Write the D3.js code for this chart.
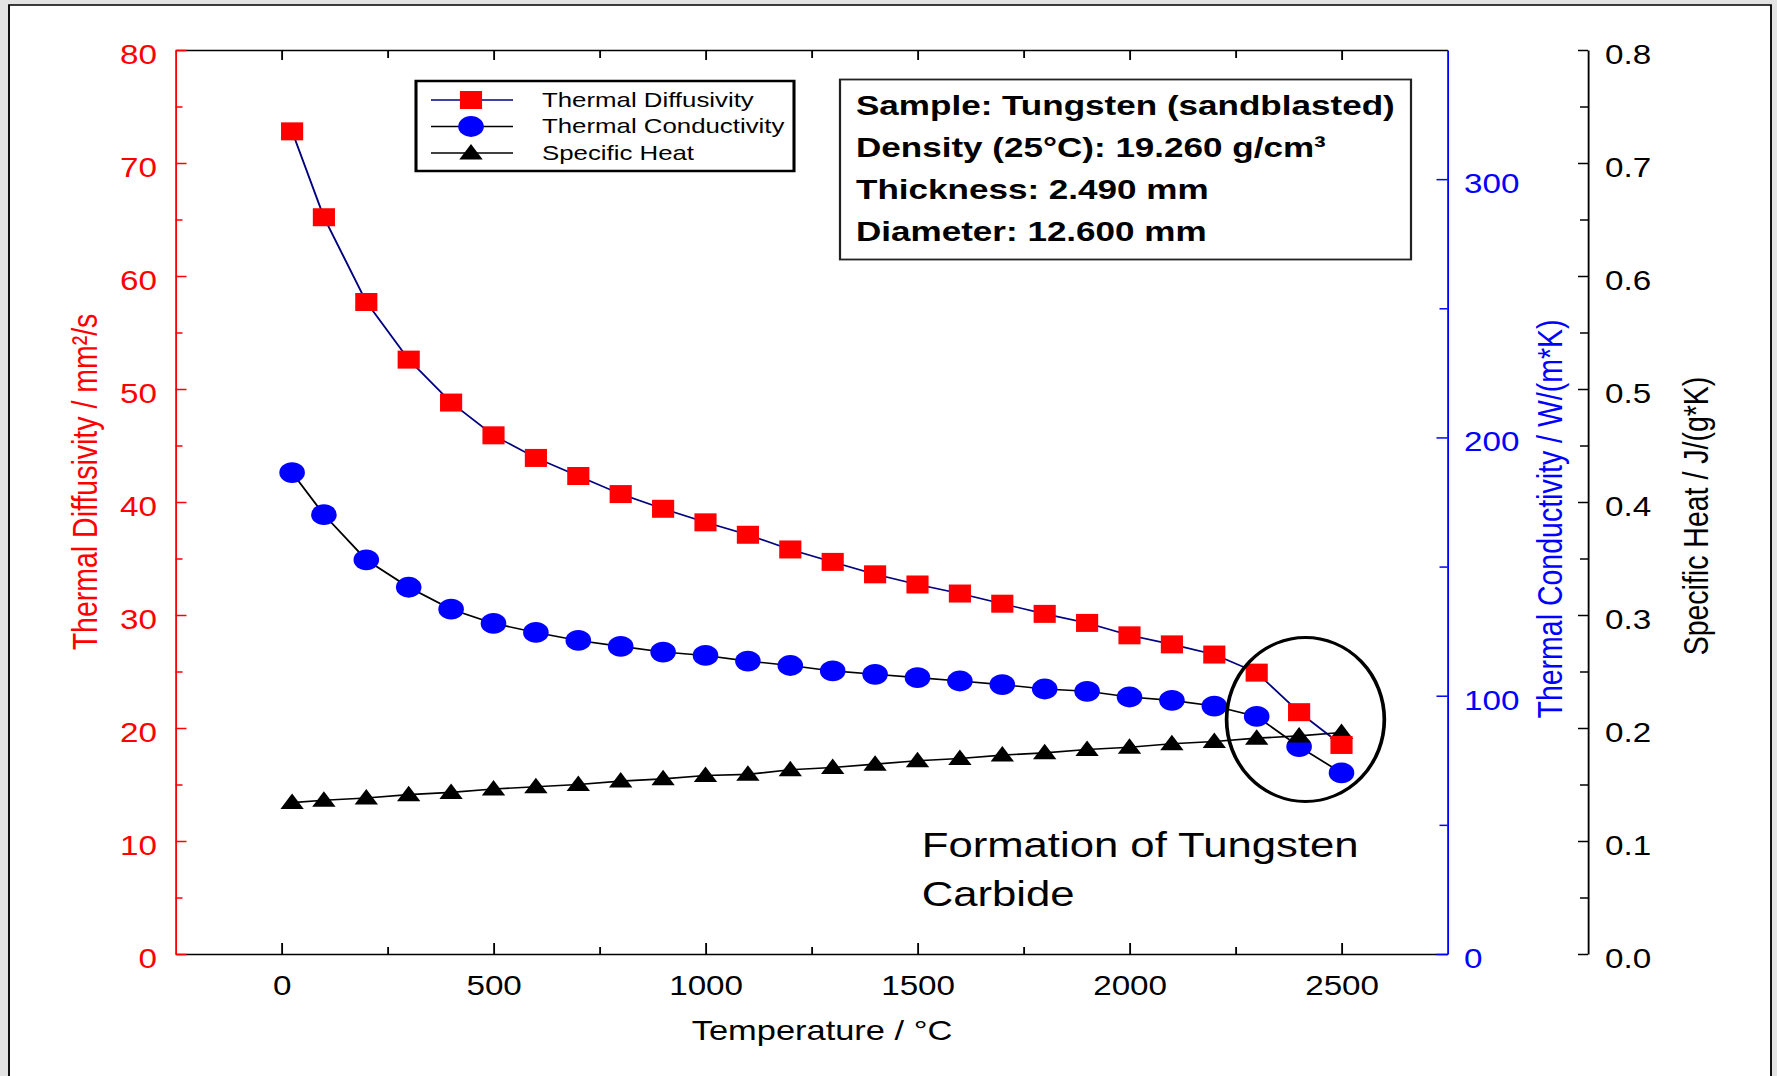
<!DOCTYPE html>
<html>
<head>
<meta charset="utf-8">
<script src="https://cdn.jsdelivr.net/npm/d3@7"></script>
<style>
  body { margin: 0; background: #e3e3e3; }
  svg { display: block; font-family: "Liberation Sans", Arial, sans-serif; }
</style>
</head>
<body>
<div id="chart"></div>
<script>
// measured data, tungsten sample
const temperatures = [25, 100, 200, 300, 400, 500, 600, 700, 800, 900, 1000, 1100, 1200,
  1300, 1400, 1500, 1600, 1700, 1800, 1900, 2000, 2100, 2200, 2300, 2400, 2500];
const diffusivity = [72.8, 65.2, 57.7, 52.6, 48.8, 45.9, 43.9, 42.3, 40.7, 39.4, 38.2, 37.1, 35.8,
  34.7, 33.6, 32.7, 31.9, 31.0, 30.1, 29.3, 28.2, 27.4, 26.5, 24.9, 21.4, 18.5];
const conductivity = [186.4, 170.1, 152.6, 142.0, 133.5, 128.0, 124.5, 121.4, 119.1, 116.9, 115.6, 113.4, 111.7,
  109.6, 108.3, 107.0, 105.7, 104.3, 102.6, 101.7, 99.5, 98.2, 96.0, 92.0, 80.3, 70.1];
const specificHeat = [0.134, 0.136, 0.138, 0.141, 0.143, 0.146, 0.148, 0.150, 0.153, 0.155, 0.158, 0.159, 0.163,
  0.165, 0.168, 0.171, 0.173, 0.176, 0.178, 0.181, 0.183, 0.186, 0.188, 0.191, 0.193, 0.196];

const seriesNames = ['Thermal Diffusivity', 'Thermal Conductivity', 'Specific Heat'];
const sampleInfo = ['Sample: Tungsten (sandblasted)', 'Density (25°C): 19.260 g/cm³',
  'Thickness: 2.490 mm', 'Diameter: 12.600 mm'];

const xTicks = [0, 500, 1000, 1500, 2000, 2500];
const xMinorTicks = [250, 750, 1250, 1750, 2250];
const diffTicks = [0, 10, 20, 30, 40, 50, 60, 70, 80];
const diffMinorTicks = [5, 15, 25, 35, 45, 55, 65, 75];
const condTicks = [0, 100, 200, 300];
const condMinorTicks = [50, 150, 250];
const heatTicks = [0, 0.1, 0.2, 0.3, 0.4, 0.5, 0.6, 0.7, 0.8];
const heatMinorTicks = [0.05, 0.15, 0.25, 0.35, 0.45, 0.55, 0.65, 0.75];

const width = 1777, height = 1076;
// the source picture is stretched sideways (text and markers too), so draw narrow and stretch
const SX = 1.23;
const sx = v => v / SX;

const plotLeft = 175.5, plotRight = 1447.5, plotTop = 50, plotBottom = 954, heatAxisX = 1588;

const svg = d3.select('#chart')
  .append('svg')
  .attr('width', width)
  .attr('height', height)
  .attr('viewBox', `0 0 ${sx(width)} ${height}`)
  .attr('preserveAspectRatio', 'none');

// page frame
svg.append('rect')
  .attr('x', sx(9)).attr('y', 5)
  .attr('width', sx(1762)).attr('height', 1120)
  .attr('fill', 'white')
  .attr('stroke', 'black')
  .attr('stroke-width', 1.5);

const x = d3.scaleLinear().domain([-250, 2750]).range([sx(plotLeft), sx(plotRight)]);
const yDiff = d3.scaleLinear().domain([0, 80]).range([plotBottom, plotTop]);
const yCond = d3.scaleLinear().domain([0, 350]).range([plotBottom, plotTop]);
const yHeat = d3.scaleLinear().domain([0, 0.8]).range([plotBottom, plotTop]);

// styles the group d3.axis produced
function styleAxis(g, color, fontSize) {
  g.attr('font-family', null)
    .attr('font-size', fontSize)
    .attr('color', color);
  g.selectAll('line, path').attr('stroke-width', 1.5);
}

function minor(g, axis) {
  g.append('g').call(axis.tickFormat('').tickSizeOuter(0))
    .call(s => s.select('.domain').remove())
    .selectAll('line').attr('stroke-width', 1.5);
}

// bottom axis
const gx = svg.append('g')
  .attr('transform', `translate(0,${plotBottom})`)
  .call(d3.axisBottom(x).tickValues(xTicks).tickFormat(d3.format('d'))
    .tickSize(-11).tickSizeOuter(0).tickPadding(22));
styleAxis(gx, 'black', 27);
minor(gx, d3.axisBottom(x).tickValues(xMinorTicks).tickSize(-7));

// top axis
const gTop = svg.append('g')
  .attr('transform', `translate(0,${plotTop})`)
  .call(d3.axisTop(x).tickValues(xTicks).tickSize(-10).tickSizeOuter(0).tickFormat(''));
styleAxis(gTop, 'black', 27);
minor(gTop, d3.axisTop(x).tickValues(xMinorTicks).tickSize(-8));

// left axis, diffusivity
const gDiff = svg.append('g')
  .attr('transform', `translate(${sx(plotLeft)},0)`)
  .call(d3.axisLeft(yDiff).tickValues(diffTicks).tickSize(-sx(11)).tickSizeOuter(0).tickPadding(sx(18.5)));
styleAxis(gDiff, 'red', 27);
gDiff.selectAll('text').attr('dy', '0.5em');
minor(gDiff, d3.axisLeft(yDiff).tickValues(diffMinorTicks).tickSize(-sx(7)));

// inner right axis, conductivity
const gCond = svg.append('g')
  .attr('transform', `translate(${sx(plotRight)},0)`)
  .call(d3.axisRight(yCond).tickValues(condTicks).tickSize(-sx(11)).tickSizeOuter(0).tickPadding(sx(16.5)));
styleAxis(gCond, 'blue', 27);
gCond.selectAll('text').attr('dy', '0.5em');
minor(gCond, d3.axisRight(yCond).tickValues(condMinorTicks).tickSize(-sx(8)));

// outer right axis, specific heat
const gHeat = svg.append('g')
  .attr('transform', `translate(${sx(heatAxisX)},0)`)
  .call(d3.axisRight(yHeat).tickValues(heatTicks).tickSize(-sx(10)).tickSizeOuter(0)
    .tickPadding(sx(17)).tickFormat(d3.format('.1f')));
styleAxis(gHeat, 'black', 27);
gHeat.selectAll('text').attr('dy', '0.5em');
minor(gHeat, d3.axisRight(yHeat).tickValues(heatMinorTicks).tickSize(-sx(8)));

// axis titles
svg.append('text')
  .attr('transform', `translate(${sx(97)},482) rotate(-90)`)
  .attr('text-anchor', 'middle').attr('font-size', 28.5).attr('fill', 'red')
  .text('Thermal Diffusivity / mm²/s');
svg.append('text')
  .attr('transform', `translate(${sx(1562)},519) rotate(-90)`)
  .attr('text-anchor', 'middle').attr('font-size', 28.5).attr('fill', 'blue')
  .text('Thermal Conductivity / W/(m*K)');
svg.append('text')
  .attr('transform', `translate(${sx(1708)},516) rotate(-90)`)
  .attr('text-anchor', 'middle').attr('font-size', 28.5).attr('fill', 'black')
  .text('Specific Heat / J/(g*K)');
svg.append('text')
  .attr('x', sx(822)).attr('y', 1040)
  .attr('text-anchor', 'middle').attr('font-size', 28)
  .text('Temperature / °C');

// markers
const drawSquare = (g, cx, cy) => g.append('rect')
  .attr('x', cx - 9).attr('y', cy - 9).attr('width', 18).attr('height', 18).attr('fill', 'red');
const drawCircle = (g, cx, cy) => g.append('circle')
  .attr('cx', cx).attr('cy', cy).attr('r', 10.4).attr('fill', 'blue');
const drawTriangle = (g, cx, cy) => g.append('path')
  .attr('d', `M${cx},${cy - 9}L${cx + 9.5},${cy + 6.5}L${cx - 9.5},${cy + 6.5}Z`).attr('fill', 'black');

const series = [
  { values: diffusivity, scale: yDiff, line: '#000080', marker: drawSquare },
  { values: conductivity, scale: yCond, line: 'black', marker: drawCircle },
  { values: specificHeat, scale: yHeat, line: 'black', marker: drawTriangle }
];

const plot = svg.append('g');
series.forEach(s => {
  plot.append('path')
    .datum(s.values)
    .attr('fill', 'none')
    .attr('stroke', s.line)
    .attr('stroke-width', 1.6)
    .attr('d', d3.line().x((d, i) => x(temperatures[i])).y(d => s.scale(d)));
});
// circles first, then triangles, squares on top
[1, 2, 0].forEach(k => {
  const s = series[k];
  const g = plot.append('g');
  s.values.forEach((v, i) => s.marker(g, x(temperatures[i]), s.scale(v)));
});

// legend
const legend = svg.append('g');
legend.append('rect')
  .attr('x', sx(416)).attr('y', 81)
  .attr('width', sx(378)).attr('height', 90)
  .attr('fill', 'white').attr('stroke', 'black').attr('stroke-width', 2.5);
const legendRows = [100, 126.5, 153];
series.forEach((s, i) => {
  const yy = legendRows[i];
  legend.append('line')
    .attr('x1', sx(431)).attr('x2', sx(513)).attr('y1', yy).attr('y2', yy)
    .attr('stroke', s.line).attr('stroke-width', 1.6);
  s.marker(legend, sx(471), yy);
  legend.append('text')
    .attr('x', sx(542)).attr('y', yy + 7)
    .attr('font-size', 21)
    .text(seriesNames[i]);
});

// sample info box
const info = svg.append('g');
info.append('rect')
  .attr('x', sx(840)).attr('y', 79.5)
  .attr('width', sx(571)).attr('height', 180)
  .attr('fill', 'white').attr('stroke', '#222').attr('stroke-width', 1.8);
sampleInfo.forEach((t, i) => {
  info.append('text')
    .attr('x', sx(856)).attr('y', 115 + i * 42)
    .attr('font-size', 28.5).attr('font-weight', 'bold')
    .text(t);
});

// annotation: carbide formation at the top end
const ring = { t: 2415, v: 20.75, dt: 186, ry: 82 };
svg.append('ellipse')
  .attr('cx', x(ring.t)).attr('cy', yDiff(ring.v))
  .attr('rx', x(ring.t + ring.dt) - x(ring.t)).attr('ry', ring.ry)
  .attr('fill', 'none').attr('stroke', 'black').attr('stroke-width', 3);
const note = svg.append('text')
  .attr('font-size', 35.5);
note.append('tspan').attr('x', x(1510)).attr('y', yDiff(8.6)).text('Formation of Tungsten');
note.append('tspan').attr('x', x(1510)).attr('y', yDiff(4.25)).text('Carbide');
</script>
</body>
</html>
